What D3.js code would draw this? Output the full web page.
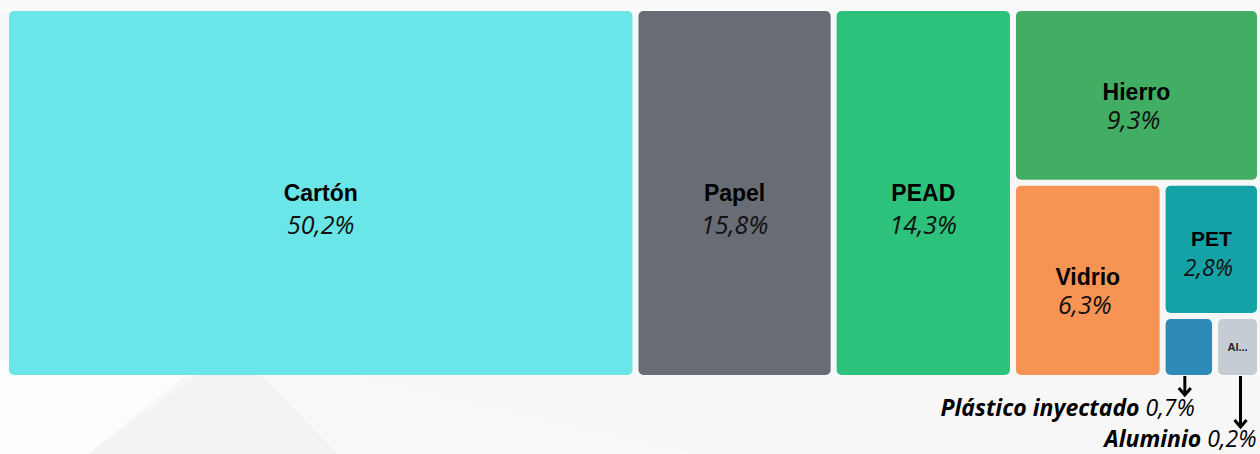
<!DOCTYPE html>
<html>
<head>
<meta charset="utf-8">
<script src="https://cdn.jsdelivr.net/npm/d3@7"></script>
<style>
  html, body { margin: 0; padding: 0; background: #f7f7f7; overflow: hidden; }
  svg { display: block; }
</style>
</head>
<body>
<div id="treemap"></div>
<script>
// Data: material share of recovered waste (%)
const materials = ["Cartón", "Papel", "PEAD", "Hierro", "Vidrio", "PET", "Plástico inyectado", "Aluminio"];
const shares    = [50.2, 15.8, 14.3, 9.3, 6.3, 2.8, 0.7, 0.2];
const percentLabels = ["50,2%", "15,8%", "14,3%", "9,3%", "6,3%", "2,8%", "0,7%", "0,2%"];
const colors = ["#6be6e8", "#686c75", "#2cc27b", "#41ae64", "#f89453", "#14a2a6", "#2e8ab9", "#c6ccd3"];
const shortNames = { "Aluminio": "Al..." };

// tiny tiles get a minimum drawing size so they stay visible
const minTile = 0.6;

const W = 1260, H = 454;
const margin = { top: 11, left: 9, right: 3, bottom: 79 };
const innerW = W - margin.left - margin.right,
      innerH = H - margin.top - margin.bottom;

const svg = d3.select("#treemap")
    .append("svg")
    .attr("width", W)
    .attr("height", H);

// faint background shapes
const bg = svg.append("g");
bg.append("rect").attr("width", W).attr("height", H).attr("fill", "#f7f7f7");
bg.append("polygon").attr("points", "0,0 1260,0 1260,12 0,12").attr("fill", "#fafafa");
bg.append("polygon").attr("points", "0,360 205,360 88,454 0,454").attr("fill", "#fdfdfd");
bg.append("polygon").attr("points", "205,370 255,370 338,454 88,454").attr("fill", "#f3f3f3");
bg.append("polygon").attr("points", "255,370 330,370 700,454 338,454").attr("fill", "#f9f9f9");

// nested groups so the tiles alternate between columns and rows
const leaf = i => ({ name: materials[i], value: shares[i], pct: percentLabels[i], color: colors[i] });
const tree = {
    name: "root",
    children: [leaf(0), leaf(1), leaf(2), {
        name: "g1", children: [leaf(3), {
            name: "g2", children: [leaf(4), {
                name: "g3", children: [leaf(5), {
                    name: "g4", children: [leaf(6), leaf(7)]
                }]
            }]
        }]
    }]
};

const root = d3.hierarchy(tree)
    .sum(d => d.children ? 0 : Math.max(d.value, minTile));

d3.treemap()
    .tile(d3.treemapSliceDice)
    .size([innerW, innerH])
    .paddingInner(6)
    .round(false)(root);

const g = svg.append("g")
    .attr("transform", `translate(${margin.left},${margin.top})`);

const leaves = root.leaves();

const cell = g.selectAll("g.cell")
    .data(leaves)
    .enter()
    .append("g")
    .attr("class", "cell");

cell.append("rect")
    .attr("x", d => d.x0)
    .attr("y", d => d.y0)
    .attr("width", d => d.x1 - d.x0)
    .attr("height", d => d.y1 - d.y0)
    .attr("rx", 5)
    .attr("fill", d => d.data.color);

// labels inside the bigger tiles
const big = leaves.filter(d => (d.x1 - d.x0) > 70);
const tall = d => (d.y1 - d.y0) > 250;
const narrow = d => (d.x1 - d.x0) < 110;

g.selectAll("text.name")
    .data(big)
    .enter()
    .append("text")
    .attr("class", "name")
    .attr("x", d => (d.x0 + d.x1) / 2)
    .attr("y", d => (d.y0 + d.y1) / 2 + (tall(d) ? 8 : narrow(d) ? -3 : 5))
    .attr("text-anchor", "middle")
    .style("font-family", "'Liberation Sans', Arial, sans-serif")
    .style("font-weight", "bold")
    .style("font-size", d => narrow(d) ? "21px" : "23px")
    .style("fill", "#000")
    .text(d => d.data.name);

g.selectAll("text.pct")
    .data(big)
    .enter()
    .append("text")
    .attr("class", "pct")
    .attr("x", d => (d.x0 + d.x1) / 2 - (tall(d) ? 0 : 3))
    .attr("y", d => (d.y0 + d.y1) / 2 + (tall(d) ? 41 : narrow(d) ? 27 : 34))
    .attr("text-anchor", "middle")
    .style("font-family", "'Open Sans', sans-serif")
    .style("font-style", "italic")
    .style("font-size", d => narrow(d) ? "23px" : "25px")
    .style("fill", "#111")
    .text(d => d.data.pct);

// short label for the aluminium tile
g.selectAll("text.short")
    .data(leaves.filter(d => shortNames[d.data.name]))
    .enter()
    .append("text")
    .attr("class", "short")
    .attr("x", d => (d.x0 + d.x1) / 2)
    .attr("y", d => (d.y0 + d.y1) / 2 + 4)
    .attr("text-anchor", "middle")
    .style("font-family", "'Liberation Sans', Arial, sans-serif")
    .style("font-weight", "bold")
    .style("font-size", "11px")
    .style("fill", "#222")
    .text(d => shortNames[d.data.name]);

// callouts for the two smallest tiles
const small = leaves.filter(d => (d.x1 - d.x0) <= 70);
const arrowDx = [-4, 3], arrowLen = [20, 52], labelDx = [10, 16], labelDy = [41, 72];

small.forEach((d, i) => {
    const ax = (d.x0 + d.x1) / 2 + arrowDx[i], ay = d.y1 + 1, by = ay + arrowLen[i];
    g.append("line")
        .attr("x1", ax).attr("y1", ay)
        .attr("x2", ax).attr("y2", by - 1)
        .attr("stroke", "#000")
        .attr("stroke-width", 3);
    g.append("path")
        .attr("d", `M${ax - 6},${by - 8} L${ax},${by - 1} L${ax + 6},${by - 8}`)
        .attr("fill", "none")
        .attr("stroke", "#000")
        .attr("stroke-width", 3);
    const t = g.append("text")
        .attr("x", ax + labelDx[i])
        .attr("y", d.y1 + labelDy[i])
        .attr("text-anchor", "end")
        .style("font-family", "'Open Sans', sans-serif")
        .style("font-style", "italic")
        .style("font-size", "23px")
        .style("fill", "#000");
    t.append("tspan").style("font-weight", "bold").text(d.data.name + " ");
    t.append("tspan").style("font-weight", "normal").text(d.data.pct);
});
</script>
</body>
</html>
